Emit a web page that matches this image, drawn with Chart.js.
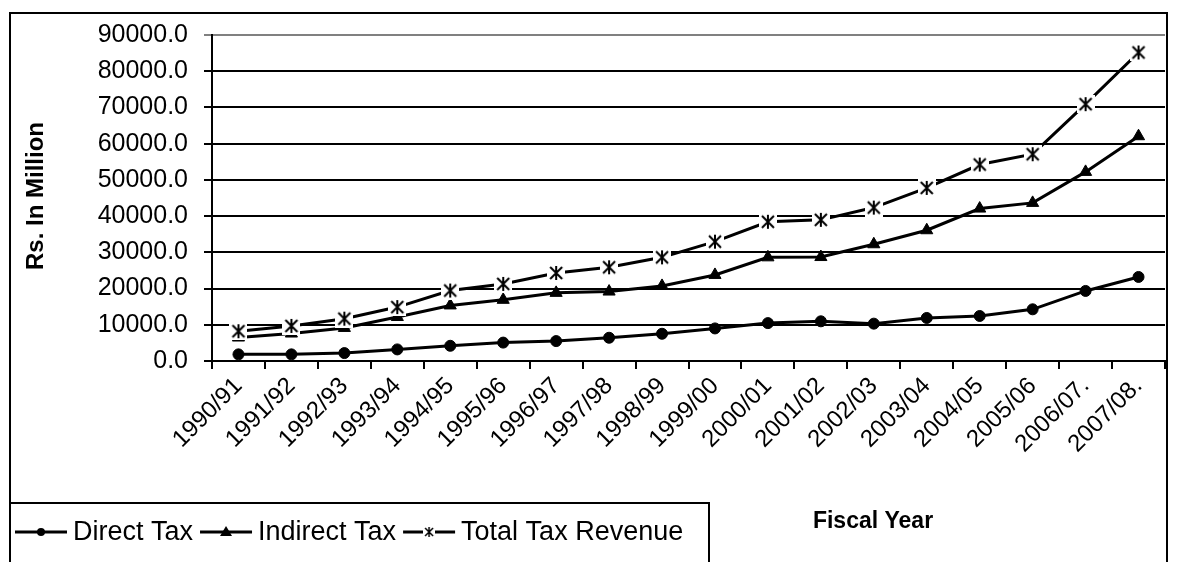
<!DOCTYPE html>
<html>
<head>
<meta charset="utf-8">
<script src="https://cdn.jsdelivr.net/npm/chart.js@4.4.0/dist/chart.umd.min.js"></script>
<style>
  html, body { margin: 0; padding: 0; background: #fff; }
  #wrap { width: 1180px; height: 562px; position: relative; }
</style>
</head>
<body>
<div id="wrap"><canvas id="c" width="1180" height="562"></canvas></div>
<script>
/* Tax revenue chart (Rs. in million) */
const fiscalYears = ["1990/91", "1991/92", "1992/93", "1993/94", "1994/95", "1995/96",
  "1996/97", "1997/98", "1998/99", "1999/00", "2000/01", "2001/02", "2002/03",
  "2003/04", "2004/05", "2005/06", "2006/07.", "2007/08."];
const directTax = [1830, 1830, 2190, 3200, 4200, 5080, 5500, 6420, 7520, 8990,
  10460, 10960, 10310, 11880, 12430, 14270, 19340, 23200];
const indirectTax = [6480, 7580, 9130, 12150, 15340, 16890, 18810, 19170, 20730, 23760,
  28620, 28700, 32230, 36100, 42080, 43650, 52210, 62060];
const totalTax = [8220, 9680, 11690, 14890, 19450, 21280, 24310, 25870, 28620, 32940,
  38440, 38970, 42360, 47790, 54240, 57090, 70900, 85180];
const yMax = 90000;
const yStep = 10000;

const FONT = "'Liberation Sans', Arial, sans-serif";

// asterisk marker on a white box (covers lines behind it)
function makeStar(size, arm, lw) {
  const cv = document.createElement("canvas");
  cv.width = size; cv.height = size;
  const g = cv.getContext("2d");
  g.fillStyle = "#fff";
  g.fillRect(0, 0, size, size);
  g.strokeStyle = "#000";
  g.lineWidth = lw;
  const m = size / 2;
  g.beginPath();
  g.moveTo(m - arm, m - arm); g.lineTo(m + arm, m + arm);
  g.moveTo(m + arm, m - arm); g.lineTo(m - arm, m + arm);
  g.moveTo(m, m - arm - 1); g.lineTo(m, m + arm + 1);
  g.stroke();
  return cv;
}
const starMark = makeStar(18, 6, 2);

const framePlugin = {
  id: "frame",
  afterDraw(chart) {
    const ctx = chart.ctx;
    ctx.save();
    ctx.strokeStyle = "#000";
    ctx.lineWidth = 2;
    ctx.strokeRect(10, 13, 1157, 600);
    ctx.strokeRect(10, 503, 699, 100);

    ctx.fillStyle = "#000";
    // y title
    ctx.save();
    ctx.translate(36, 196);
    ctx.rotate(-Math.PI / 2);
    ctx.font = "bold 24px " + FONT;
    ctx.textAlign = "center";
    ctx.textBaseline = "middle";
    ctx.fillText("Rs. In Million", 0, 0);
    ctx.restore();

    // x title
    ctx.font = "bold 23px " + FONT;
    ctx.textAlign = "center";
    ctx.textBaseline = "middle";
    ctx.fillText("Fiscal Year", 873, 522);

    // legend, fitted to its box like the original
    const items = chart.data.datasets;
    const sample = 52, gapIn = 6, gapOut = 7;
    ctx.font = "27px " + FONT;
    let natural = 0;
    items.forEach((ds, i) => {
      natural += sample + gapIn + ctx.measureText(ds.label).width + (i < items.length - 1 ? gapOut : 0);
    });
    const left = 15, right = 704, y = 532;
    const sx = Math.min(1, (right - left) / natural);
    ctx.save();
    ctx.translate(left, 0);
    ctx.scale(sx, 1);
    ctx.textAlign = "left";
    let x = 0;
    items.forEach((ds) => {
      ctx.strokeStyle = "#000";
      ctx.lineWidth = 3;
      ctx.beginPath();
      ctx.moveTo(x, y); ctx.lineTo(x + sample, y);
      ctx.stroke();
      const cx = x + sample / 2;
      if (ds.pointStyle === "circle") {
        ctx.beginPath(); ctx.arc(cx, y, 4, 0, Math.PI * 2); ctx.fill();
      } else if (ds.pointStyle === "triangle") {
        ctx.beginPath(); ctx.moveTo(cx, y - 6); ctx.lineTo(cx + 6, y + 4); ctx.lineTo(cx - 6, y + 4);
        ctx.closePath(); ctx.fill();
      } else {
        ctx.drawImage(makeStar(12, 4, 1.5), cx - 6, y - 6);
      }
      ctx.fillText(ds.label, x + sample + gapIn, y + 1);
      x += sample + gapIn + ctx.measureText(ds.label).width + gapOut;
    });
    ctx.restore();
    ctx.restore();
  }
};

new Chart(document.getElementById("c"), {
  type: "line",
  data: {
    labels: fiscalYears,
    datasets: [
      {
        label: "Direct Tax", data: directTax, order: 2,
        borderColor: "#000", borderWidth: 3, pointStyle: "circle", pointRadius: 5.5,
        pointBackgroundColor: "#000", pointBorderColor: "#000", pointBorderWidth: 1
      },
      {
        label: "Indirect Tax", data: indirectTax, order: 1,
        borderColor: "#000", borderWidth: 3, pointStyle: "triangle", pointRadius: 7,
        pointBackgroundColor: "#000", pointBorderColor: "#000", pointBorderWidth: 1
      },
      {
        label: "Total Tax Revenue", data: totalTax, order: 0,
        borderColor: "#000", borderWidth: 3, pointStyle: starMark, pointRadius: 9
      }
    ]
  },
  options: {
    responsive: false,
    animation: false,
    devicePixelRatio: 1,
    layout: { padding: { left: 0, top: 35, right: 15, bottom: 0 } },
    plugins: { legend: { display: false }, tooltip: { enabled: false } },
    scales: {
      x: {
        offset: true,
        grid: { offset: true, drawOnChartArea: false, drawTicks: true, tickLength: 8, color: "#000", lineWidth: 2 },
        border: { color: "#000", width: 2 },
        ticks: {
          autoSkip: false, minRotation: 45, maxRotation: 45, padding: 3,
          color: "#000", font: { family: FONT, size: 24 }
        },
        afterFit(scale) { scale.height = 201; }
      },
      y: {
        min: 0, max: yMax,
        grid: {
          tickLength: 8, lineWidth: 2,
          color: (c) => (c.tick && c.tick.value === yMax ? "#808080" : "#000")
        },
        border: { color: "#000", width: 2 },
        ticks: {
          stepSize: yStep, padding: 16, color: "#000",
          font: { family: FONT, size: 25 },
          callback: (v) => Number(v).toFixed(1)
        },
        afterFit(scale) { scale.width = 212; }
      }
    }
  },
  plugins: [framePlugin]
});
</script>
</body>
</html>
